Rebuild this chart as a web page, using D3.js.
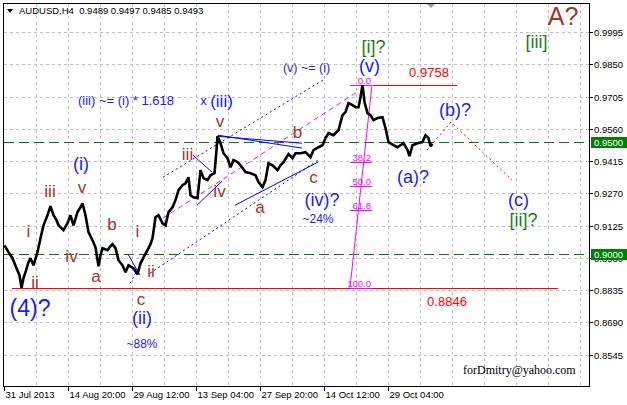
<!DOCTYPE html>
<html><head><meta charset="utf-8">
<script src="https://cdn.jsdelivr.net/npm/d3@7"></script>
<style>html,body{margin:0;padding:0;background:#fff;} svg{display:block;font-family:"Liberation Sans",Arial,sans-serif;}</style>
</head><body><svg id="c" width="627" height="405"></svg>
<script>
// ---------------- data ----------------
const barIndex = [1,5,9,13,16,18,20,22,25,27,30,34,37,40,44,47,50,53,55,58,60,64,67,70,74,77,79,82,85,89,92,95,97,99,104,107,109,112,115,119,122,125,130,134,137,140,144,147,149,152,155,159,162,165,169,172,175,179,182,185,187,190,194,197,200,204,207,211,213,214,217,220,224,227,230,234,237,242,247,252,255,259,262,265,269,274,277,280,285,289,292,297,302,307,310,315,319,322,325,330,335,339,342,345,349,352,355,357,359,361,364,367,370,374,379,382,385,390,394,397,400,404,406,409,414,419,422,425,427,429];
const closePrice = [0.9037,0.9006,0.8979,0.8934,0.8902,0.8846,0.8889,0.8916,0.8961,0.8979,0.8947,0.9006,0.9069,0.9127,0.9172,0.9213,0.9172,0.9150,0.9127,0.9114,0.9105,0.9136,0.9172,0.9127,0.9186,0.9208,0.9226,0.9172,0.9096,0.9060,0.9028,0.8943,0.8992,0.9024,0.9015,0.9033,0.9042,0.9024,0.8970,0.8947,0.8916,0.8947,0.8934,0.8907,0.8956,0.8983,0.9015,0.9042,0.9069,0.9163,0.9172,0.9136,0.9127,0.9186,0.9208,0.9240,0.9285,0.9307,0.9316,0.9343,0.9262,0.9253,0.9249,0.9375,0.9339,0.9330,0.9352,0.9361,0.9465,0.9528,0.9496,0.9451,0.9429,0.9388,0.9420,0.9411,0.9397,0.9366,0.9361,0.9352,0.9321,0.9298,0.9330,0.9406,0.9397,0.9375,0.9397,0.9411,0.9447,0.9429,0.9451,0.9451,0.9456,0.9433,0.9465,0.9478,0.9487,0.9519,0.9541,0.9532,0.9555,0.9622,0.9636,0.9676,0.9667,0.9658,0.9658,0.9703,0.9758,0.9681,0.9631,0.9622,0.9600,0.9609,0.9613,0.9564,0.9501,0.9487,0.9478,0.9487,0.9496,0.9465,0.9438,0.9487,0.9496,0.9501,0.9532,0.9519,0.9483,0.9493];

const priceTicks = [0.8545,0.8690,0.8835,0.8980,0.9125,0.9270,0.9415,0.9560,0.9705,0.9850,0.9995];
const priceTickLabels = ["0.8545","0.8690","0.8835","0.8980","0.9125","0.9270","0.9415","0.9560","0.9705","0.9850","0.9995"];
const timeTickBars = [0,64,128,192,256,320,384];
const timeTickLabels = ["31 Jul 2013","14 Aug 20:00","29 Aug 12:00","13 Sep 04:00","27 Sep 20:00","14 Oct 12:00","29 Oct 04:00"];
const headerText = "AUDUSD,H4  0.9489 0.9497 0.9485 0.9493";

const greenLevels = [0.9500, 0.9000];
const greenLevelLabels = ["0.9500", "0.9000"];

const redLevels = [0.9758, 0.8846];
const redLevelLabels = ["0.9758", "0.8846"];
const redLevelFrom = [369, 8.5];
const redLevelTo = [453.5, 554.5];
const redLabelBar = [425.5, 443.5];
const redLabelPrice = [0.9794, 0.8762];

const fibHigh = 0.9758, fibLow = 0.8846;
const fibRatios = [0, 0.382, 0.5, 0.618, 1];
const fibLabels = ["0.0","38.2","50.0","61.8","100.0"];
const fibBarLeft = 346.5, fibBarRight = 368.5;

// trend lines: [bar1, price1, bar2, price2, kind]
const trendLines = [
  [159.5,0.9343,319.5,0.9780,"blueDot"],
  [146.5,0.8911,314.5,0.9420,"blueDot"],
  [126.5,0.8866,139.5,0.8970,"blueDot"],
  [124.5,0.8997,136.5,0.8902,"blue"],
  [231.5,0.9217,314.5,0.9411,"blue"],
  [214.5,0.9532,298.5,0.9474,"blue"],
  [214.5,0.9527,298.5,0.9496,"blue"],
  [189.5,0.9442,208.5,0.9366,"blue"],
  [193.5,0.9217,218.5,0.9325,"blue"],
  [159.5,0.9159,353.5,0.9726,"magentaDash"]
];
const forecastBars = [423.5, 447.5, 508.5];
const forecastPrices = [0.9465, 0.9591, 0.9330];

// wave labels: text, bar, price, kind, size
const labelText  = ["(iii) ~= (i) * 1.618","x","(iii)","(v) ~= (i)","(v)","(i)","(4)?","(ii)","~88%","(iv)?","~24%","(a)?","(b)?","(c)",
  "i","ii","iii","iv","v","a","b","c","i","ii","iii","iv","v","a","b","c",
  "[i]?","[ii]?","[iii]","A?"];
const labelBar   = [122.5,200,218,303,366,77.5,26.5,138.5,138.5,318.5,314.5,409.5,451.5,515,
  25,31.5,46.5,68,78.5,92.5,108.5,137.5,134,147.5,184,216,216.5,256.5,294,310,
  370,520,533,559.5];
const labelPrice = [0.9668,0.9668,0.9659,0.9816,0.9816,0.9375,0.8717,0.8681,0.8573,0.9213,0.9136,0.9316,0.9618,0.9213,
  0.9073,0.8844,0.9253,0.8961,0.9271,0.8871,0.9105,0.8767,0.9073,0.8893,0.9420,0.9253,0.9568,0.9181,0.9519,0.9316,
  0.9902,0.9123,0.9924,1.0028];
const labelKind  = ["blue","blue","blue","blue","blue","blue","blue","blue","blue","blue","blue","blue","blue","blue",
  "brown","brown","brown","brown","brown","brown","brown","brown","brown","brown","brown","brown","brown","brown","brown","brown",
  "green","green","green","brown"];
const labelSize  = [13,13,17,12.5,18,18,23,18,12,18,12,18,18,18,
  17,17,17,17,17,17,17,17,17,17,17,17,17,17,17,17,
  18,18,18,25];

// ---------------- drawing ----------------
const W = 627, H = 405;
const svg = d3.select("#c");
svg.append("rect").attr("width",W).attr("height",H).attr("fill","#fff");

const x = d3.scaleLinear().domain([0,586]).range([3.5,589.5]);
const y = d3.scaleLinear().domain([0.8402,1.0122]).range([386.5,4]);
const colors = {blue:"#1a1aff", brown:"#a5322a", green:"#168016", red:"#ff0000", magenta:"#ff00ff", grid:"#c0c0c0", lvl:"#008000"};

// grid
const gridG = svg.append("g").attr("shape-rendering","crispEdges");
d3.range(32, 586, 32).forEach(b => {
  gridG.append("line").attr("x1",Math.round(x(b))+0.5).attr("x2",Math.round(x(b))+0.5)
    .attr("y1",4).attr("y2",386).attr("stroke",colors.grid).attr("stroke-dasharray","3,3");
});
priceTicks.forEach(p => {
  gridG.append("line").attr("x1",4).attr("x2",589).attr("y1",Math.round(y(p))+0.5).attr("y2",Math.round(y(p))+0.5)
    .attr("stroke",colors.grid).attr("stroke-dasharray","3,3");
});

// green levels
greenLevels.forEach(p => {
  svg.append("line").attr("x1",4).attr("x2",589).attr("y1",Math.round(y(p))+0.5).attr("y2",Math.round(y(p))+0.5)
    .attr("stroke",colors.lvl).attr("stroke-width",1).attr("stroke-dasharray","10,5").attr("shape-rendering","crispEdges");
});

// red levels
redLevels.forEach((p,i) => {
  svg.append("line").attr("x1",x(redLevelFrom[i])).attr("x2",x(redLevelTo[i]))
    .attr("y1",Math.round(y(p))+0.5).attr("y2",Math.round(y(p))+0.5)
    .attr("stroke",colors.red).attr("stroke-width",1.3).attr("shape-rendering","crispEdges");
  svg.append("text").attr("x",x(redLabelBar[i])).attr("y",y(redLabelPrice[i]))
    .attr("text-anchor","middle").attr("font-size",13).attr("fill",colors.red).text(redLevelLabels[i]);
});

// fib
const fibG = svg.append("g");
fibRatios.forEach((r,i) => {
  const p = fibHigh - r*(fibHigh - fibLow);
  const yy = Math.round(y(p))+0.5;
  fibG.append("line").attr("x1",x(fibBarLeft)).attr("x2",x(fibBarRight)).attr("y1",yy).attr("y2",yy)
    .attr("stroke",colors.magenta).attr("stroke-width",1);
  fibG.append("text").attr("x",x(fibBarRight)-1).attr("y",yy-2).attr("text-anchor","end")
    .attr("font-size",9.5).attr("fill",colors.magenta).text(fibLabels[i]);
});
fibG.append("line").attr("x1",x(fibBarRight)).attr("y1",y(fibHigh)).attr("x2",x(fibBarLeft)).attr("y2",y(fibLow))
  .attr("stroke",colors.magenta).attr("stroke-width",1);

// trend lines
trendLines.forEach(t => {
  const ln = svg.append("line").attr("x1",x(t[0])).attr("y1",y(t[1])).attr("x2",x(t[2])).attr("y2",y(t[3]));
  if (t[4]==="blueDot") ln.attr("stroke","#0000ff").attr("stroke-width",1).attr("stroke-dasharray","2,3");
  else if (t[4]==="blue") ln.attr("stroke","#0000ff").attr("stroke-width",1);
  else ln.attr("stroke",colors.magenta).attr("stroke-width",1).attr("stroke-dasharray","5,4");
});

// forecast
svg.append("path")
  .attr("d", d3.line().x((d,i)=>x(forecastBars[i])).y((d,i)=>y(forecastPrices[i]))(forecastBars))
  .attr("fill","none").attr("stroke",colors.red).attr("stroke-width",1).attr("stroke-dasharray","2,3");

// price
svg.append("path")
  .attr("d", d3.line().x((d,i)=>x(barIndex[i])).y((d,i)=>y(closePrice[i])).curve(d3.curveLinear)(barIndex))
  .attr("fill","none").attr("stroke","#000").attr("stroke-width",2.6).attr("stroke-linejoin","miter").attr("stroke-miterlimit",2);

// wave labels
labelText.forEach((t,i) => {
  svg.append("text").attr("x",x(labelBar[i])).attr("y",y(labelPrice[i]))
    .attr("text-anchor","middle").attr("font-size",labelSize[i]).attr("fill",colors[labelKind[i]]).text(t);
});

// frame
svg.append("rect").attr("x",3.5).attr("y",3.5).attr("width",586).attr("height",383)
  .attr("fill","none").attr("stroke","#000").attr("shape-rendering","crispEdges");

// right axis
const axG = svg.append("g").attr("font-size",9.5).attr("fill","#000");
priceTicks.forEach((p,i) => {
  const yy = Math.round(y(p))+0.5;
  axG.append("line").attr("x1",589.5).attr("x2",593).attr("y1",yy).attr("y2",yy).attr("stroke","#000").attr("shape-rendering","crispEdges");
  axG.append("text").attr("x",594).attr("y",yy+3.5).text(priceTickLabels[i]);
});
greenLevels.forEach((p,i) => {
  const yy = Math.round(y(p));
  svg.append("rect").attr("x",591).attr("y",yy-5).attr("width",36).attr("height",11).attr("fill","#008000");
  svg.append("text").attr("x",594).attr("y",yy+4).attr("font-size",9.5).attr("fill","#fff").text(greenLevelLabels[i]);
});

// bottom axis
timeTickBars.forEach((b,i) => {
  const xx = Math.round(x(b))+0.5;
  axG.append("line").attr("x1",xx).attr("x2",xx).attr("y1",386.5).attr("y2",391).attr("stroke","#000").attr("shape-rendering","crispEdges");
  axG.append("text").attr("x",xx+1).attr("y",398).text(timeTickLabels[i]);
});

// header
svg.append("path").attr("d","M7,9 L13,9 L10,13 Z").attr("fill","#000");
svg.append("text").attr("x",19).attr("y",14).attr("font-size",9.5).attr("fill","#000")
  .style("white-space","pre").text(headerText);
// chart shift marker
svg.append("path").attr("d","M427,4 L435,4 L431,8 Z").attr("fill","#a0a0a0");

// watermark
svg.append("text").attr("x",463).attr("y",374).attr("font-family","'Liberation Serif','Times New Roman',serif")
  .attr("font-size",12).attr("fill","#000").text("forDmitry@yahoo.com");
</script></body></html>
